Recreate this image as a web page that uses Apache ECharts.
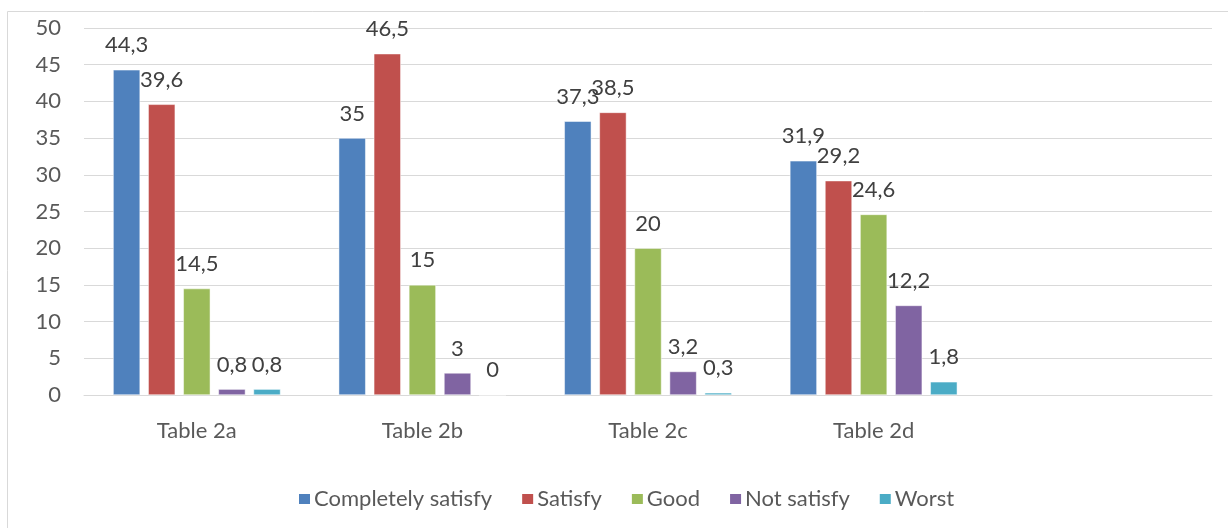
<!DOCTYPE html>
<html>
<head>
<meta charset="utf-8">
<script src="https://cdn.jsdelivr.net/npm/echarts@6/dist/echarts.min.js"></script>
<style>html,body{margin:0;padding:0;background:#fff}#c{width:1228px;height:528px}</style>
</head>
<body>
<div id="c"></div>
<script>
const categories = ['Table 2a', 'Table 2b', 'Table 2c', 'Table 2d', ''];
const seriesNames = ['Completely satisfy', 'Satisfy', 'Good', 'Not satisfy', 'Worst'];
const completelySatisfy = [44.3, 35, 37.3, 31.9, null];
const satisfy = [39.6, 46.5, 38.5, 29.2, null];
const good = [14.5, 15, 20, 24.6, null];
const notSatisfy = [0.8, 3, 3.2, 12.2, null];
const worst = [0.8, 0, 0.3, 1.8, null];
const yTicks = [0, 5, 10, 15, 20, 25, 30, 35, 40, 45, 50];

const colors = ['#4F81BD', '#C0504D', '#9BBB59', '#8064A2', '#4BACC6'];
const values = [completelySatisfy, satisfy, good, notSatisfy, worst];
const FONT = 'Lato, "Open Sans", sans-serif';
const FS = 22;

const chart = echarts.init(document.getElementById('c'), null, {renderer: 'canvas'});
chart.setOption({
  animation: false,
  color: colors,
  textStyle: {fontFamily: FONT},
  graphic: [{
    type: 'rect', shape: {x: 7.5, y: 11.5, width: 1240, height: 540},
    style: {fill: 'none', stroke: '#D9D9D9', lineWidth: 1}, silent: true, z: -1
  }],
  grid: {left: 84, right: 16, top: 28, bottom: 133, containLabel: false},
  legend: {
    data: seriesNames,
    left: 292, top: 483,
    itemWidth: 13, itemHeight: 12, itemGap: 28,
    icon: 'rect',
    textStyle: {fontFamily: FONT, fontSize: FS, color: '#595959', padding: [0, 0, 0, -2]}
  },
  xAxis: {
    type: 'category', data: categories,
    axisLine: {lineStyle: {color: '#D9D9D9', width: 1}},
    axisTick: {show: false},
    axisLabel: {fontFamily: FONT, fontSize: FS, color: '#595959', margin: 25}
  },
  yAxis: {
    type: 'value', min: yTicks[0], max: yTicks[yTicks.length - 1], interval: 5,
    axisLine: {show: false}, axisTick: {show: false},
    splitLine: {lineStyle: {color: '#D9D9D9', width: 1}},
    axisLabel: {fontFamily: FONT, fontSize: FS, color: '#595959', margin: 23}
  },
  series: seriesNames.map((name, i) => ({
    name: name, type: 'bar', data: values[i],
    barWidth: 27, barGap: '30%',
    itemStyle: {color: colors[i], borderColor: '#fff', borderWidth: 0.5},
    label: {
      show: true, position: 'top', distance: 12,
      fontFamily: FONT, fontSize: FS, color: '#404040', lineHeight: 25,
      formatter: p => (p.value === null || p.value === undefined) ? '' : String(p.value).replace('.', ',')
    }
  }))
});
</script>
</body>
</html>
